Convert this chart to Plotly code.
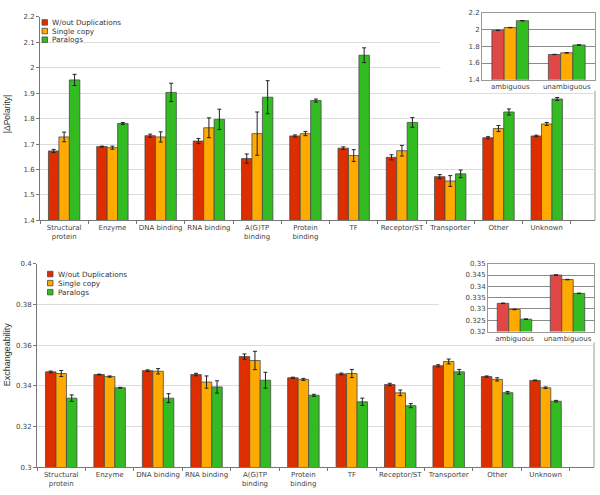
import plotly.graph_objects as go

categories = ["Structural<br>protein", "Enzyme", "DNA binding", "RNA binding", "A(G)TP<br>binding",
              "Protein<br>binding", "TF", "Receptor/ST", "Transporter", "Other", "Unknown"]
series_names = ["W/out Duplications", "Single copy", "Paralogs"]

pol_wo = [1.673, 1.690, 1.733, 1.712, 1.643, 1.732, 1.684, 1.648, 1.572, 1.725, 1.732]
pol_wo_err = [0.006, 0.002, 0.006, 0.010, 0.018, 0.004, 0.005, 0.010, 0.008, 0.004, 0.003]
pol_single = [1.728, 1.686, 1.728, 1.764, 1.741, 1.741, 1.655, 1.674, 1.555, 1.761, 1.779]
pol_single_err = [0.019, 0.006, 0.020, 0.039, 0.085, 0.008, 0.023, 0.021, 0.021, 0.012, 0.006]
pol_para = [1.952, 1.781, 1.903, 1.797, 1.884, 1.871, 2.049, 1.785, 1.583, 1.826, 1.877]
pol_para_err = [0.022, 0.004, 0.036, 0.040, 0.065, 0.006, 0.029, 0.019, 0.015, 0.012, 0.006]

inset_cats = ["ambiguous", "unambiguous"]
pol_in_wo = [1.990, 1.702]
pol_in_single = [2.024, 1.722]
pol_in_para = [2.106, 1.816]
pol_in_err = [0.002, 0.002]

exch_wo = [0.3469, 0.3456, 0.3475, 0.3456, 0.3544, 0.3440, 0.3459, 0.3407, 0.3499, 0.3446, 0.3427]
exch_wo_err = [0.0004, 0.0002, 0.0004, 0.0006, 0.0013, 0.0003, 0.0004, 0.0006, 0.0005, 0.0003, 0.0002]
exch_single = [0.3461, 0.3446, 0.3472, 0.3419, 0.3525, 0.3432, 0.3461, 0.3366, 0.3520, 0.3432, 0.3391]
exch_single_err = [0.0015, 0.0003, 0.0013, 0.0030, 0.0045, 0.0005, 0.0020, 0.0014, 0.0012, 0.0008, 0.0004]
exch_para = [0.3340, 0.3391, 0.3340, 0.3395, 0.3428, 0.3354, 0.3322, 0.3303, 0.3469, 0.3367, 0.3325]
exch_para_err = [0.0016, 0.0002, 0.0022, 0.0030, 0.0039, 0.0005, 0.0018, 0.0010, 0.0012, 0.0006, 0.0004]

exch_in_wo = [0.3325, 0.3450]
exch_in_single = [0.3298, 0.3430]
exch_in_para = [0.3255, 0.3369]
exch_in_err = [0.0001, 0.0001]

W, H = 600, 495
RED, ORANGE, GREEN = "#dd2e00", "#ffaa00", "#33bb22"
INSET_RED = "#e04848"
EDGE = "#4a4a4a"
TICKFONT = dict(family="DejaVu Sans", size=7, color="#444444")


def px(x):
    return x / W


def py(y):
    return 1 - y / H


fig = go.Figure()


def add_bars(xa, ya, cats, vals, errs, colors):
    for name, v, e, c in zip(series_names, vals, errs, colors):
        fig.add_trace(go.Bar(
            x=cats, y=v, name=name, xaxis=xa, yaxis=ya, showlegend=False,
            marker=dict(color=c, line=dict(color=EDGE, width=0.8)),
            error_y=dict(type="data", array=e, color="#222222", thickness=1, width=2),
        ))


add_bars("x", "y", categories, [pol_wo, pol_single, pol_para],
         [pol_wo_err, pol_single_err, pol_para_err], [RED, ORANGE, GREEN])
add_bars("x2", "y2", inset_cats, [pol_in_wo, pol_in_single, pol_in_para],
         [pol_in_err] * 3, [INSET_RED, ORANGE, GREEN])
add_bars("x3", "y3", categories, [exch_wo, exch_single, exch_para],
         [exch_wo_err, exch_single_err, exch_para_err], [RED, ORANGE, GREEN])
add_bars("x4", "y4", inset_cats, [exch_in_wo, exch_in_single, exch_in_para],
         [exch_in_err] * 3, [INSET_RED, ORANGE, GREEN])

main_x = dict(type="category", tickson="boundaries", ticks="outside", ticklen=3,
              tickcolor="#777777", showline=True, linecolor="#777777", linewidth=1,
              tickfont=TICKFONT, showgrid=False, tickangle=0)
main_y = dict(showline=True, linecolor="#777777", linewidth=1, ticks="outside", ticklen=3,
              tickcolor="#777777", gridcolor="#dcdcdc", gridwidth=1, tickfont=TICKFONT,
              zeroline=False)
inset_x = dict(type="category", showline=True, mirror=True, linecolor="#999999",
               ticks="", tickfont=TICKFONT, showgrid=False, tickangle=0)
inset_y = dict(showline=True, mirror=True, linecolor="#999999", ticks="",
               gridcolor="#8a8a8a", gridwidth=1, tickfont=TICKFONT, zeroline=False)

fig.update_layout(
    width=W, height=H, margin=dict(l=0, r=0, t=0, b=0),
    paper_bgcolor="white", plot_bgcolor="white",
    barmode="group", bargap=0.35, bargroupgap=0,
    xaxis=dict(main_x, domain=[px(40), px(595)], anchor="y"),
    yaxis=dict(main_y, domain=[py(220), py(13)], range=[1.4, 2.2], dtick=0.1, anchor="x"),
    xaxis2=dict(inset_x, domain=[px(482), px(595)], anchor="y2"),
    yaxis2=dict(inset_y, domain=[py(77), py(9)], range=[1.4, 2.2], dtick=0.2, anchor="x2"),
    xaxis3=dict(main_x, domain=[px(37), px(594)], anchor="y3"),
    yaxis3=dict(main_y, domain=[py(471), py(264)], range=[0.3, 0.4], dtick=0.02, anchor="x3"),
    xaxis4=dict(inset_x, domain=[px(488), px(594)], anchor="y4"),
    yaxis4=dict(inset_y, domain=[py(333), py(264)], range=[0.32, 0.35], dtick=0.005, anchor="x4"),
    font=dict(family="DejaVu Sans", color="#333333"),
)

shapes = []
annotations = []

# white boxes hiding the main gridlines behind the insets
shapes.append(dict(type="rect", xref="x", yref="y", x0=7.8, x1=11, y0=1.91, y1=2.3,
                   fillcolor="white", line=dict(width=0), layer="between"))
shapes.append(dict(type="rect", xref="x3", yref="y3", x0=7.8, x1=11, y0=0.3618, y1=0.41,
                   fillcolor="white", line=dict(width=0), layer="between"))
# right borders of the main plots (below the insets)
shapes.append(dict(type="line", xref="paper", yref="paper", x0=px(595), x1=px(595),
                   y0=py(88), y1=py(220), line=dict(color="#999999", width=1), layer="below"))
shapes.append(dict(type="line", xref="paper", yref="paper", x0=px(594), x1=px(594),
                   y0=py(344), y1=py(471), line=dict(color="#999999", width=1), layer="below"))


def legend(x_sq, y_first, step):
    for i, (name, c) in enumerate(zip(series_names, [RED, ORANGE, GREEN])):
        yc = y_first + i * step
        shapes.append(dict(type="rect", xref="paper", yref="paper",
                           x0=px(x_sq), x1=px(x_sq + 5.5), y0=py(yc + 2.8), y1=py(yc - 2.8),
                           fillcolor=c, line=dict(color=EDGE, width=0.8), layer="above"))
        annotations.append(dict(xref="paper", yref="paper", x=px(x_sq + 8), y=py(yc),
                                xanchor="left", yanchor="middle", showarrow=False, text=name,
                                font=dict(family="DejaVu Sans", size=7.3, color="#333333")))


legend(42, 18.7, 8.8)
legend(47.5, 274.5, 9.2)

annotations.append(dict(xref="paper", yref="paper", x=px(7), y=py(112), textangle=-90,
                        showarrow=False, text="|ΔPolarity|", xanchor="center", yanchor="middle",
                        font=dict(family="Liberation Sans", size=8.5, color="#333333")))
annotations.append(dict(xref="paper", yref="paper", x=px(7), y=py(356), textangle=-90,
                        showarrow=False, text="Exchangeability", xanchor="center", yanchor="middle",
                        font=dict(family="Liberation Sans", size=9, color="#333333")))

fig.update_layout(shapes=shapes, annotations=annotations)

fig.write_html(
    "out.html",
    config={"displayModeBar": False},
    post_script="document.body.style.margin='0';document.body.style.overflow='hidden';",
)
